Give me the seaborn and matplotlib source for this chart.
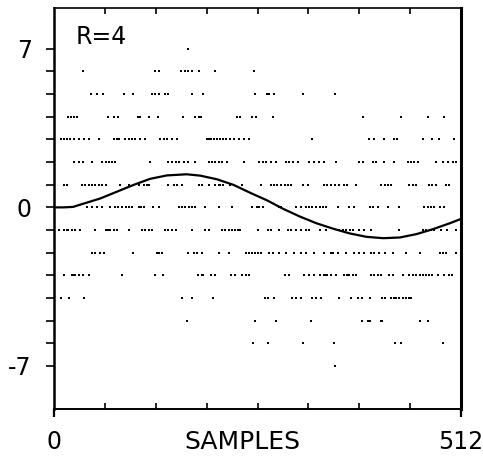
import matplotlib
matplotlib.use("Agg")
import matplotlib.pyplot as plt
import seaborn as sns
import pandas as pd

# ---- data ----
# sample positions of the dots on each quantisation level
level_p7 = [169]
level_p6 = [37, 127, 132, 160, 165, 169, 174, 182, 202, 252]
level_p5 = [46, 54, 62, 88, 100, 123, 127, 132, 140, 143, 174, 188, 253, 268, 271, 277, 313, 353]
level_p4 = [18, 21, 25, 29, 68, 75, 81, 106, 108, 119, 131, 162, 178, 183, 185, 230, 234, 249, 254,
            276, 389, 436, 470, 490]
level_p3 = [9, 13, 16, 20, 25, 31, 38, 44, 57, 75, 79, 82, 89, 94, 98, 102, 108, 114, 133, 138, 142,
            148, 155, 192, 195, 198, 201, 205, 209, 213, 217, 221, 226, 233, 239, 245, 325, 396, 403,
            415, 428, 432, 464, 476, 484, 503]
level_p2 = [25, 31, 37, 48, 60, 65, 69, 73, 77, 121, 144, 148, 153, 157, 163, 169, 178, 195, 199, 203,
            207, 211, 218, 239, 258, 263, 267, 273, 279, 292, 295, 301, 307, 321, 327, 333, 340, 355,
            384, 389, 401, 405, 415, 428, 445, 449, 453, 458, 481, 489, 496, 502, 506]
level_p1 = [12, 16, 35, 39, 44, 48, 52, 56, 60, 65, 83, 94, 107, 113, 117, 119, 144, 151, 155, 161,
            182, 186, 195, 203, 207, 209, 213, 222, 237, 260, 273, 277, 281, 285, 290, 294, 298, 313,
            319, 340, 344, 348, 353, 359, 365, 369, 380, 411, 416, 420, 424, 447, 451, 455, 472, 476,
            481, 493, 497]
level_0 = [42, 48, 54, 60, 71, 77, 81, 86, 90, 94, 98, 107, 109, 113, 125, 132, 157, 161, 165, 170,
           174, 178, 190, 207, 224, 249, 255, 258, 263, 283, 286, 304, 311, 317, 321, 325, 330, 334,
           338, 342, 357, 371, 378, 397, 401, 407, 420, 434, 466, 470, 474, 478, 485, 491]
level_m1 = [6, 12, 16, 18, 23, 27, 33, 52, 65, 67, 69, 71, 75, 79, 94, 111, 115, 119, 123, 140, 144,
            148, 153, 174, 190, 195, 211, 215, 220, 224, 228, 232, 234, 256, 269, 273, 283, 294, 298,
            304, 311, 317, 321, 334, 342, 359, 363, 367, 372, 376, 384, 390, 399, 434, 464, 468, 474,
            478, 487, 495, 506]
level_m2 = [48, 52, 58, 63, 100, 130, 132, 136, 169, 176, 180, 186, 207, 220, 241, 245, 249, 253, 256,
            260, 271, 275, 283, 292, 302, 311, 317, 327, 340, 348, 351, 357, 367, 378, 384, 390, 399,
            403, 409, 416, 426, 443, 460, 485, 489, 493, 506]
level_m3 = [12, 23, 25, 27, 32, 36, 44, 86, 127, 137, 181, 186, 188, 198, 202, 223, 228, 237, 241, 245,
            291, 296, 315, 321, 327, 334, 340, 342, 344, 348, 355, 365, 369, 371, 376, 380, 399, 403,
            407, 411, 422, 426, 439, 447, 451, 455, 460, 464, 468, 472, 476, 483, 491, 497, 501]
level_m4 = [9, 19, 38, 161, 173, 200, 266, 269, 277, 300, 304, 311, 325, 330, 336, 359, 374, 382, 388,
            397, 413, 416, 424, 428, 430, 434, 439, 443, 447, 449]
level_m5 = [167, 253, 279, 323, 388, 395, 397, 411, 413, 460, 470]
level_m6 = [250, 269, 313, 352, 429, 437, 489]
level_m7 = [353]

levels = [7, 6, 5, 4, 3, 2, 1, 0, -1, -2, -3, -4, -5, -6, -7]
level_samples = [level_p7, level_p6, level_p5, level_p4, level_p3, level_p2, level_p1, level_0,
                 level_m1, level_m2, level_m3, level_m4, level_m5, level_m6, level_m7]

# smooth curve
curve_x = [0, 12, 24, 33, 58, 79, 100, 121, 142, 167, 184, 205, 226, 247, 268, 288, 309, 330, 351,
           372, 393, 414, 435, 456, 477, 498, 512]
curve_y = [0.0, 0.0, 0.02, 0.12, 0.39, 0.69, 0.99, 1.26, 1.41, 1.46, 1.40, 1.24, 0.99, 0.64, 0.31,
           -0.06, -0.40, -0.70, -0.94, -1.15, -1.30, -1.36, -1.33, -1.18, -0.96, -0.70, -0.51]

ytick_values = list(range(-7, 8))
ytick_labels = ["-7", "", "", "", "", "", "", "0", "", "", "", "", "", "", "7"]
xtick_values = [0, 512]
xtick_labels = ["0", "512"]
xminor_values = [64, 128, 192, 256, 320, 384, 448]

# ---- build tables ----
rows = []
for lv, xs in zip(levels, level_samples):
    for s in xs:
        rows.append((s, lv))
dots = pd.DataFrame(rows, columns=["sample", "level"])
curve = pd.DataFrame({"sample": curve_x, "value": curve_y})

# ---- plot ----
sns.set_style("ticks")
plt.rcParams["font.family"] = ["DejaVu Sans"]
plt.rcParams["text.color"] = "black"
plt.rcParams["axes.labelcolor"] = "black"
plt.rcParams["xtick.color"] = "black"
plt.rcParams["ytick.color"] = "black"

fig = plt.figure(figsize=(4.83, 4.66), dpi=100)
ax = fig.add_axes([54 / 483, 1 - 409 / 466, 407 / 483, 401 / 466])

sns.scatterplot(data=dots, x="sample", y="level", ax=ax, marker="s", s=3,
                color="black", linewidth=0, legend=False)
sns.lineplot(data=curve, x="sample", y="value", ax=ax, color="black", linewidth=1.6,
             sort=False, estimator=None)

ax.set_xlim(0, 512)
ax.set_ylim(-8.9, 8.8)

ax.set_yticks(ytick_values)
ax.set_yticklabels(ytick_labels, fontsize=17, color="black")
ax.set_xticks(xtick_values)
ax.set_xticklabels(xtick_labels, fontsize=17, color="black")
ax.set_xticks(xminor_values, minor=True)

ax.tick_params(axis="y", which="major", direction="out", length=6, width=1.2, pad=10,
               left=True, right=False, colors="black")
ax.tick_params(axis="x", which="major", direction="out", length=6, width=1.6, pad=9,
               bottom=True, top=False, colors="black")
ax.tick_params(axis="x", which="minor", direction="in", length=4.5, width=1.2,
               bottom=True, top=True, colors="black")

ax.set_xlabel("SAMPLES", fontsize=18, color="black")
ax.xaxis.set_label_coords(0.462, -0.052)
ax.set_ylabel("")

ax.text(0.052, 0.958, "R=4", transform=ax.transAxes, ha="left", va="top", fontsize=17,
        color="black")

for side, lw in (("left", 1.8), ("right", 2.2), ("top", 1.2), ("bottom", 1.4)):
    ax.spines[side].set_visible(True)
    ax.spines[side].set_linewidth(lw)
    ax.spines[side].set_color("black")

fig.savefig("out.png", dpi=100, facecolor="white")
